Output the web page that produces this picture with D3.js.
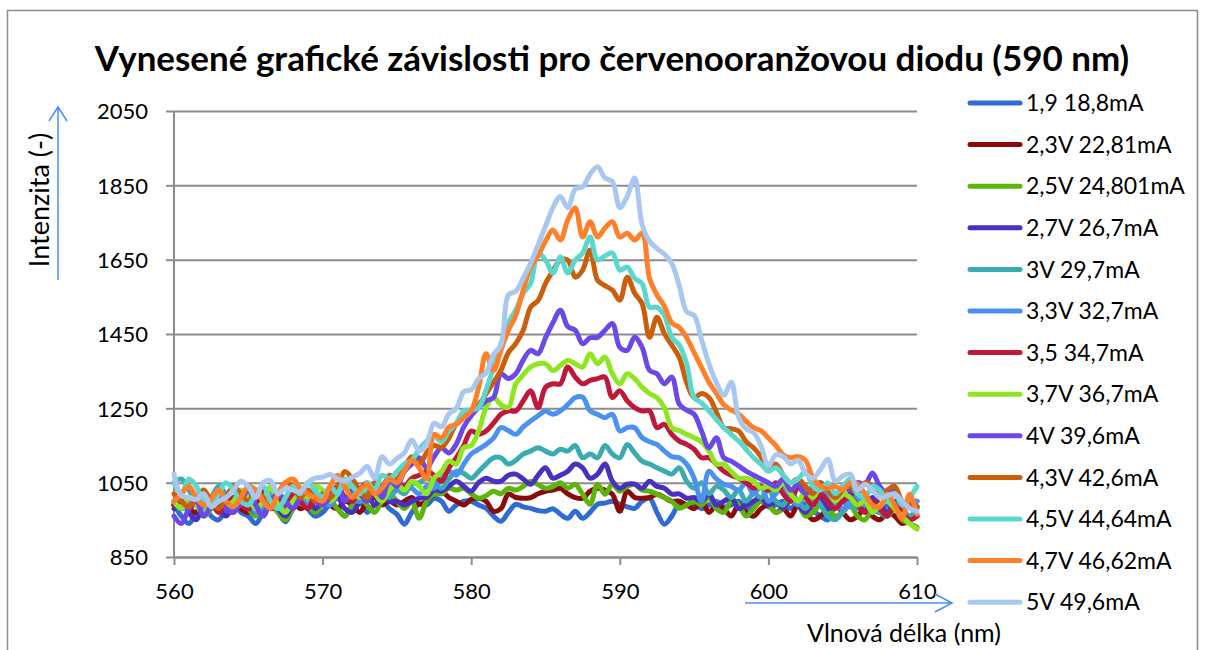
<!DOCTYPE html>
<html>
<head>
<meta charset="utf-8">
<script src="https://cdn.jsdelivr.net/npm/d3@7"></script>
<style>
  body { margin: 0; background: #fff; }
  svg { font-family: Lato, "Open Sans", sans-serif; }
  .tick text { font-size: 22px; fill: #000; font-family: Lato, sans-serif; }
</style>
</head>
<body>
<div id="chart"></div>
<script>
(function () {

const title = "Vynesené grafické závislosti pro červenooranžovou diodu (590 nm)";
const yTicks = [850, 1050, 1250, 1450, 1650, 1850, 2050];
const xTicks = [560, 570, 580, 590, 600, 610];
const wavelengths = d3.range(0, 101).map(i => 560 + i * 0.5);

const labels = ["1,9 18,8mA", "2,3V 22,81mA", "2,5V 24,801mA", "2,7V 26,7mA", "3V 29,7mA",
  "3,3V 32,7mA", "3,5 34,7mA", "3,7V 36,7mA", "4V 39,6mA", "4,3V 42,6mA",
  "4,5V 44,64mA", "4,7V 46,62mA", "5V 49,6mA"];
const colors = ["#2f6bd0", "#8b0a0a", "#5db40a", "#4a30c0", "#3aacb0", "#4a92f0", "#c0183a",
  "#8ee620", "#6b48e8", "#cc5e0a", "#5ad8d0", "#ff7f2a", "#a8c8f0"];

// intensities, 560..610 nm in steps of 0.5 nm
const s19 = [990,960,940,970,990,960,950,980,1000,970, 960,940,970,990,970,945,980,1000,980,960,
  970,990,980,960,990,1000,970,990,1000,980, 965,938,970,992,990,1008,1000,973,990,1000,
  1000,990,981,960,946,970,992,985,981,975, 973,980,965,954,973,954,970,992,995,1000,
  992,985,981,1000,1008,970,938,960,992,990, 992,980,990,1000,985,990,1000,980,990,1000,
  985,990,1000,980,1000,990,975,960,950,990, 1000,985,990,1000,980,970,990,985,975,990, 985];
const s23 = [990,1000,980,970,1000,990,980,1010,1000,980, 970,990,1000,980,990,1010,1000,980,990,1000,
  1010,990,980,1000,990,970,1000,1010,990,1000, 990,1000,1010,992,1000,1020,1027,1010,1000,990,
  1005,1008,1000,973,980,1019,1010,1008,1010,1020, 1027,1030,1035,1020,1010,1008,1027,1035,1030,1019,
  973,1027,1010,1008,1010,1019,1010,1000,1000,990, 980,1000,970,990,980,960,990,970,960,980,
  990,970,980,960,990,970,950,960,980,990, 970,950,960,980,960,950,970,960,940,950, 960];
const s25 = [1000,980,1010,990,960,980,1000,990,970,1000, 980,960,990,1000,970,950,980,1000,990,970,
  990,1000,980,960,990,1010,990,970,1000,1020, 1000,980,1000,954,1000,1019,1020,1035,1030,1035,
  1020,1008,1015,1027,1020,1035,1030,1040,1054,1045, 1035,1040,1050,1035,1045,1019,992,1046,1019,1046,
  1027,1040,1046,1030,1027,1019,1010,1000,981,990, 1000,990,1010,980,970,1000,990,960,980,1000,
  990,970,980,1000,990,960,970,990,980,960, 970,990,960,950,980,970,960,980,950,940, 930];
const s27 = [980,1000,970,950,990,1000,980,960,990,1010, 990,970,1000,1010,980,960,990,1000,1010,980,
  1000,990,1010,980,970,1000,1020,990,1010,1000, 1000,990,1000,1008,1010,1030,1027,1040,1054,1040,
  1027,1050,1062,1054,1054,1070,1073,1060,1046,1070, 1090,1062,1070,1081,1100,1090,1062,1073,1100,1054,
  1035,1046,1046,1035,1054,1040,1035,1019,1020,1008, 1010,1000,1020,990,1000,1010,980,990,1000,1010,
  990,1000,980,1010,990,970,1000,1010,980,990, 1000,1020,990,980,1010,990,970,1000,980,990, 1000];
const s30 = [1050,1060,1030,1000,990,1010,1040,1020,1000,990, 1010,1030,1000,1020,990,1000,1030,1010,990,1020,
  1000,990,1020,1040,1010,1000,1030,1050,1020,1010, 1030,1020,1046,1050,1062,1050,1035,1060,1081,1075,
  1062,1080,1100,1117,1117,1100,1110,1127,1135,1144, 1135,1127,1140,1135,1150,1117,1127,1117,1150,1127,
  1117,1153,1130,1108,1100,1090,1081,1073,1090,1054, 1035,1050,1020,1040,1030,1010,1030,1000,1020,1010,
  1030,1000,990,1020,1000,980,1010,990,960,950, 970,990,980,1000,990,970,960,990,980,960, 980];
const s33 = [1000,980,990,1010,970,1000,1020,990,980,1010, 1000,970,990,1020,1000,980,1010,1000,990,1020,
  1010,990,1020,1040,1010,1000,1030,1020,1010,1040, 1030,1040,1035,1020,1040,1035,1060,1081,1070,1100,
  1127,1140,1153,1170,1198,1190,1180,1200,1216,1230, 1243,1234,1243,1260,1279,1280,1243,1234,1225,1234,
  1189,1198,1198,1171,1160,1153,1135,1120,1117,1100, 1062,1000,1081,1060,1046,1040,1030,1050,1020,1040,
  1000,1020,1040,1010,990,1020,1000,1030,1010,990, 980,1000,1010,990,970,990,1000,980,990,1000, 1000];
const s35 = [990,1010,980,1000,1020,1000,970,990,1010,990, 980,1000,1030,1000,1010,990,1020,1000,980,1010,
  1000,1020,1040,1010,1000,1030,1050,1020,1040,1030, 1050,1040,1062,1070,1081,1070,1054,1090,1117,1150,
  1189,1180,1189,1210,1234,1243,1243,1270,1297,1252, 1306,1316,1316,1361,1334,1316,1325,1330,1334,1279,
  1297,1270,1252,1243,1243,1198,1207,1180,1162,1153, 1140,1117,1117,1100,1081,1070,1062,1050,1035,1040,
  1030,1050,1020,1000,1040,1010,990,1020,1000,980, 1000,1010,990,970,1000,980,960,990,970,950, 960];
const s37 = [1000,980,1010,990,970,1000,1020,990,1000,1030, 1010,980,1000,1040,990,970,1000,1020,1010,1040,
  1030,1000,1020,1050,1030,1010,1040,1020,1000,1030, 1046,1030,1054,1040,1020,1062,1080,1108,1100,1144,
  1150,1189,1252,1279,1260,1252,1316,1340,1361,1370, 1370,1352,1365,1379,1370,1361,1397,1370,1388,1343,
  1316,1343,1330,1307,1290,1279,1252,1198,1190,1180, 1171,1160,1135,1100,1100,1080,1062,1062,1055,1035,
  1040,1030,1050,1020,1000,1030,1010,1040,1030,1000, 1020,1010,990,1000,970,990,1000,980,960,940, 925];
const s40 = [960,940,980,1000,960,990,1020,980,970,1000, 1030,990,960,1000,1020,1000,980,1010,1030,1000,
  990,1010,1040,1000,1030,1020,1000,1040,1010,1060, 1040,1080,1100,1117,1090,1120,1144,1130,1154,1200,
  1230,1252,1270,1279,1343,1330,1343,1380,1406,1397, 1440,1480,1514,1470,1460,1424,1440,1441,1460,1478,
  1414,1406,1441,1414,1352,1343,1316,1334,1261,1245, 1234,1189,1144,1171,1117,1108,1095,1081,1070,1060,
  1050,1040,1060,1030,1045,1020,1040,1050,1030,1010, 1040,1030,1050,1045,1076,1040,1020,1030,1000,990, 985];
const s43 = [1020,1000,985,1010,1030,1000,980,1010,1040,1020, 1000,1030,1010,990,1020,1050,1040,1010,1030,1000,
  1020,1010,1040,1080,1060,1030,1010,1050,1040,1070, 1060,1090,1120,1100,1130,1150,1145,1170,1210,1230,
  1243,1260,1289,1320,1352,1400,1424,1460,1522,1540, 1586,1620,1649,1649,1603,1622,1676,1595,1580,1568,
  1541,1603,1560,1532,1441,1495,1451,1420,1387,1320, 1279,1290,1279,1240,1198,1195,1189,1160,1144,1120,
  1090,1100,1070,1050,1060,1040,1020,1050,1030,1010, 1030,1040,1020,1050,1040,1010,1030,1040,1000,990, 985];
const s45 = [1050,1020,1060,1040,1000,990,1020,1050,1030,1000, 990,1020,1040,1000,980,1010,1040,1020,1050,1030,
  1010,1040,1020,1060,1040,1020,1050,1030,1070,1060, 1080,1100,1110,1140,1162,1175,1160,1189,1210,1243,
  1245,1252,1300,1360,1424,1480,1514,1560,1586,1668, 1649,1614,1657,1614,1649,1668,1711,1649,1660,1668,
  1622,1630,1600,1586,1522,1522,1500,1441,1420,1370, 1279,1265,1243,1220,1198,1180,1162,1140,1117,1100,
  1081,1090,1070,1050,1060,1080,1040,1030,1050,1020, 1040,1060,1020,1010,1040,1030,1000,1020,990,1010, 1040];
const s47 = [1000,1020,1040,1010,990,1005,1030,1000,985,1010, 1040,1030,1000,980,1020,1050,1060,1035,1020,1010,
  1000,1040,1070,1040,1010,1030,1045,1020,1035,1060, 1050,1081,1110,1090,1060,1180,1170,1200,1207,1225,
  1243,1306,1397,1352,1406,1460,1500,1568,1630,1660, 1700,1730,1703,1757,1789,1711,1752,1711,1735,1752,
  1711,1721,1703,1721,1600,1555,1525,1480,1468,1440, 1400,1360,1320,1290,1260,1245,1235,1215,1198,1190,
  1170,1150,1125,1117,1120,1110,1062,1040,1035,1040, 1030,1050,1046,1020,990,985,1019,990,954,1019, 965];
const s50 = [1073,1015,1010,1005,1020,985,1000,1010,1030,1054, 1040,1010,1050,1055,1020,1035,1030,1025,1050,1062,
  1065,1072,1060,1054,1065,1075,1094,1062,1120,1100, 1115,1130,1165,1135,1154,1210,1200,1235,1250,1295,
  1300,1330,1345,1395,1420,1555,1565,1600,1640,1690, 1740,1790,1820,1790,1840,1846,1880,1900,1870,1860,
  1790,1820,1870,1745,1700,1680,1665,1640,1580,1510, 1500,1435,1370,1320,1285,1320,1225,1195,1185,1150,
  1095,1125,1120,1100,1110,1075,1062,1085,1113,1054, 1068,1073,1030,1046,1030,1010,1015,1020,1000,981, 973];

const series = [s19, s23, s25, s27, s30, s33, s35, s37, s40, s43, s45, s47, s50];

let width = 1205,
    height = 650,
    margin = ({ top: 111, right: 288, bottom: 93, left: 174 });

const svg = d3.select("#chart")
  .append("svg")
  .attr("width", width)
  .attr("height", height);

// chart frame
svg.append("rect")
  .attr("x", 7.5).attr("y", 10.5)
  .attr("width", 1190).attr("height", 680)
  .attr("fill", "none")
  .attr("stroke", "#8c8c8c")
  .attr("stroke-width", 1.5);

let x = d3.scaleLinear()
  .domain([560, 610])
  .range([margin.left, width - margin.right]);

let y = d3.scaleLinear()
  .domain([850, 2050])
  .range([height - margin.bottom, margin.top]);

// horizontal gridlines + y axis
svg.append("g")
  .attr("class", "y-axis")
  .attr("transform", `translate(${margin.left},0)`)
  .call(d3.axisLeft(y).tickValues(yTicks).tickFormat(d => d).tickSize(8).tickPadding(18))
  .call(g => g.selectAll(".tick line").clone()
      .attr("x2", width - margin.left - margin.right))
  .call(g => g.selectAll("line, path").attr("stroke", "#8c8c8c").attr("stroke-width", 2))
  .call(g => g.select(".domain").attr("d", `M0,${y(850)}V${y(2050)}`))
  .call(g => g.selectAll(".tick text").attr("dy", "0.36em"));

svg.append("g")
  .attr("class", "x-axis")
  .attr("transform", `translate(0,${height - margin.bottom})`)
  .call(d3.axisBottom(x).tickValues(xTicks).tickFormat(d => d).tickSize(8).tickSizeOuter(0).tickPadding(18))
  .call(g => g.selectAll("line, path").attr("stroke", "#8c8c8c").attr("stroke-width", 2));

const line = d3.line()
  .x((d, i) => x(wavelengths[i]))
  .y(d => y(d))
  .curve(d3.curveCatmullRom.alpha(0.5));

svg.append("g")
  .selectAll("path")
  .data(series)
  .join("path")
  .attr("d", line)
  .attr("fill", "none")
  .attr("stroke", (d, i) => colors[i])
  .attr("stroke-width", 5)
  .attr("stroke-linejoin", "round")
  .attr("stroke-linecap", "round");

// title, sized to span the same width as the original
const t = svg.append("text")
  .attr("x", 612)
  .attr("y", 71)
  .attr("text-anchor", "middle")
  .attr("font-size", 30)
  .attr("font-weight", "bold")
  .text(title);
const tl = t.node().getComputedTextLength();
t.attr("font-size", 30 * 1035 / tl);

// axis titles with arrows
const arrow = "#4a8ff0";
svg.append("text")
  .attr("transform", "translate(49,200) rotate(-90)")
  .attr("text-anchor", "middle")
  .attr("font-size", 27)
  .text("Intenzita (-)");
svg.append("path")
  .attr("d", "M58,280V107M49,121L58,107L67,121")
  .attr("fill", "none").attr("stroke", arrow).attr("stroke-width", 1.5);

svg.append("text")
  .attr("x", 904)
  .attr("y", 642)
  .attr("text-anchor", "middle")
  .attr("font-size", 25)
  .text("Vlnová délka (nm)");
svg.append("path")
  .attr("d", "M745,603H952M935,594L952,603L935,612")
  .attr("fill", "none").attr("stroke", arrow).attr("stroke-width", 1.5);

// legend
const legend = svg.append("g")
  .selectAll("g")
  .data(labels)
  .join("g")
  .attr("transform", (d, i) => `translate(968,${103 + i * 41.6})`);

legend.append("line")
  .attr("x1", 2).attr("x2", 52)
  .attr("stroke", (d, i) => colors[i])
  .attr("stroke-width", 5)
  .attr("stroke-linecap", "round");

legend.append("text")
  .attr("x", 58)
  .attr("dy", "0.36em")
  .attr("font-size", 23)
  .text(d => d);

})();
</script>
</body>
</html>
